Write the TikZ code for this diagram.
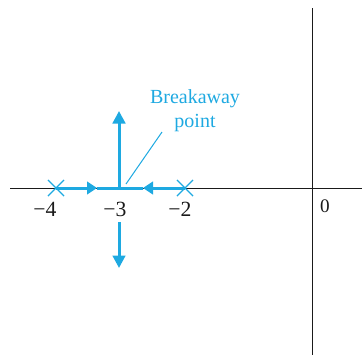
\documentclass[tikz,border=0pt]{standalone}
\usepackage{fontspec}
\setmainfont{Liberation Serif}
\usetikzlibrary{arrows.meta,positioning,shapes.misc}
\definecolor{locus}{HTML}{1EA9E1}
\definecolor{ink}{HTML}{1A1A1A}
\tikzset{
  axisline/.style={draw=ink, line width=0.6pt},
  branch/.style={draw=locus, line width=1.8pt},
  hbranchtip/.style={-{Triangle[length=6pt,width=7.5pt]}},
  vbranchtip/.style={-{Triangle[length=7.5pt,width=7.5pt]}},
  polemark/.style={draw=locus, line width=0.7pt, cross out,
    minimum size=9pt, inner sep=0pt},
  leader/.style={draw=locus, line width=0.6pt},
  ticklabel/.style={text=ink, inner sep=0pt,
    font=\fontsize{13}{15}\selectfont},
  calloutlabel/.style={text=locus, align=center, inner sep=0pt,
    font=\fontsize{12}{14.4}\selectfont}
}
\begin{document}
\begin{tikzpicture}[x=0.6pt,y=-0.6pt]
  \useasboundingbox (0,0) rectangle (362,355);
  % axes
  \coordinate (reL) at (10,188);
  \coordinate (reR) at (362,188);
  \coordinate (imT) at (312,8);
  \coordinate (imB) at (312,355);
  \draw[axisline] (reL) -- (reR);
  \draw[axisline] (imT) -- (imB);
  % poles and breakaway point
  \node[polemark] (p4) at (56,188) {};
  \node[polemark] (p2) at (185,188) {};
  \coordinate (brk) at (119,188);
  \coordinate (arrR) at (97,188);
  \coordinate (arrL) at (143,188);
  \coordinate (upTip) at (119,111);
  \coordinate (dnStart) at (119,222);
  \coordinate (dnTip) at (119,268);
  % root locus branches
  \draw[branch,hbranchtip] (p4.center) -- (arrR);
  \draw[branch] (arrR) -- (brk);
  \draw[branch,hbranchtip] (p2.center) -- (arrL);
  \draw[branch] (arrL) -- (brk);
  \draw[branch,vbranchtip] (brk) -- (upTip);
  \draw[branch,vbranchtip] (dnStart) -- (dnTip);
  % labels
  \node[ticklabel] (lab4) at (45,209) {−4};
  \node[ticklabel] (lab3) at (115,209) {−3};
  \node[ticklabel] (lab2) at (180,209) {−2};
  \node[ticklabel,font=\fontsize{11.5}{13}\selectfont] (lab0) at (325,206) {0};
  \node[calloutlabel] (brklab) at (195,111) {Breakaway\\point};
  \coordinate (leadA) at (126,184);
  \coordinate (leadB) at (162,132);
  \draw[leader] (leadA) -- (leadB);
\end{tikzpicture}
\end{document}
